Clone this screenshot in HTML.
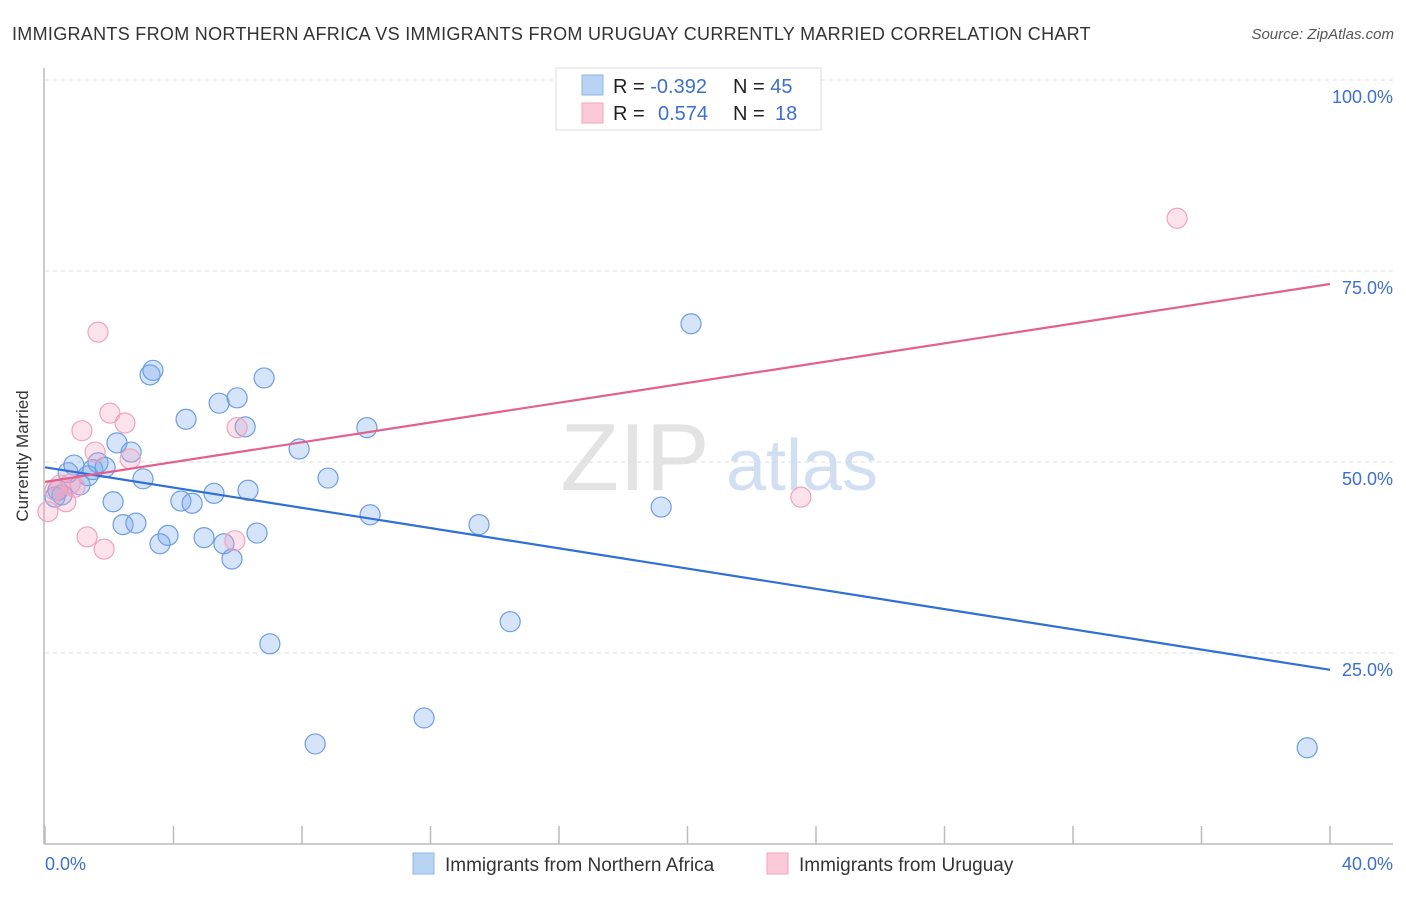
<!DOCTYPE html>
<html><head><meta charset="utf-8"><style>
body{margin:0;background:#fff;font-family:"Liberation Sans",sans-serif}
svg text{font-family:"Liberation Sans",sans-serif}
</style></head><body>
<svg id="chart" width="1406" height="892" xmlns="http://www.w3.org/2000/svg">
<text x="12" y="40" font-size="18" fill="#333" letter-spacing="0.3">IMMIGRANTS FROM NORTHERN AFRICA VS IMMIGRANTS FROM URUGUAY CURRENTLY MARRIED CORRELATION CHART</text>
<text x="1394" y="39" font-size="15" fill="#555" font-style="italic" text-anchor="end">Source: ZipAtlas.com</text>
<g id="grid"></g>
<g>
<text x="635" y="490" font-size="96" fill="#ddd" font-family="Liberation Serif,serif" text-anchor="middle" opacity="0.8">ZIP</text>
<text x="802" y="490" font-size="72" fill="#c8d8f0" text-anchor="middle" opacity="0.8">atlas</text>
</g>
<line x1="44" y1="68" x2="44" y2="844" stroke="#bbb" stroke-width="1.5"/>
<line x1="44" y1="844" x2="1393" y2="844" stroke="#bbb" stroke-width="1.5"/>
<g id="ticks"></g>
<g id="pts"></g>
<g id="lines"></g>
<text x="28" y="456" font-size="17" fill="#333" text-anchor="middle" transform="rotate(-90 28 456)">Currently Married</text>
<text x="45" y="870" font-size="18" fill="#3b6fd0">0.0%</text>
<text x="1393" y="870" font-size="18" fill="#3b6fd0" text-anchor="end">40.0%</text>
<g>
<rect x="556" y="68" width="265" height="62" fill="#fff" stroke="#ddd"/>
<rect x="582" y="75" width="21" height="20" fill="#b9d3f5" stroke="#8fb3e8"/>
<rect x="582" y="103" width="21" height="20" fill="#fbc9d8" stroke="#f3a5bd"/>
<text x="613" y="93" font-size="20" fill="#222">R = <tspan fill="#3b6fd0">-0.392</tspan><tspan x="733">N = </tspan><tspan fill="#3b6fd0">45</tspan></text>
<text x="613" y="120" font-size="20" fill="#222">R = <tspan x="658" fill="#3b6fd0">0.574</tspan><tspan x="733">N = </tspan><tspan x="775" fill="#3b6fd0">18</tspan></text>
</g>
<g>
<rect x="413" y="853" width="21" height="21" fill="#b9d3f5" stroke="#8fb3e8"/>
<text x="445" y="871" font-size="19" fill="#333">Immigrants from Northern Africa</text>
<rect x="767" y="853" width="21" height="21" fill="#fbc9d8" stroke="#f3a5bd"/>
<text x="799" y="871" font-size="19" fill="#333">Immigrants from Uruguay</text>
</g>
</svg>
<script>
const yTicks=[25,50,75,100];
const yTickLabels=["25.0%","50.0%","75.0%","100.0%"];
const xTicks=[0,4,8,12,16,20,24,28,32,36,40];
const blueX=[0.31,0.40,0.53,0.72,0.90,1.09,1.34,1.49,1.65,1.87,2.12,2.24,2.43,2.68,2.83,3.05,3.27,3.36,3.58,3.83,4.23,4.39,4.58,4.95,5.26,5.42,5.57,5.82,5.98,6.23,6.32,6.60,6.82,7.00,7.91,8.41,8.81,10.02,10.12,11.80,13.51,14.48,19.18,20.11,39.29];
const blueY=[45.4,46.3,45.7,48.6,49.6,47.0,48.2,49.0,49.9,49.3,44.8,52.5,41.8,51.3,42.0,47.8,61.4,62.0,39.3,40.4,44.9,55.6,44.6,40.1,45.9,57.7,39.3,37.3,58.4,54.6,46.3,40.7,61.0,26.2,51.7,13.1,47.9,54.5,43.1,16.5,41.8,29.1,44.1,68.1,12.6];
const pinkX=[0.09,0.31,0.47,0.65,0.78,0.93,1.15,1.31,1.56,1.65,1.84,2.02,2.49,2.65,5.91,5.98,23.53,35.24];
const pinkY=[43.5,46.3,47.0,44.8,47.1,46.7,54.1,40.2,51.3,67.0,38.6,56.4,55.1,50.4,39.7,54.5,45.4,81.9];
const blueTrend=[49.3,22.8];
const pinkTrend=[47.4,73.3];
const NS='http://www.w3.org/2000/svg';
const sx=v=>45+v/40*1285;
const sy=v=>844-v/100*764;
function mk(t,a,p){const e=document.createElementNS(NS,t);for(const k in a)e.setAttribute(k,a[k]);p.appendChild(e);return e;}
const grid=document.getElementById('grid');
yTicks.forEach((v,i)=>{
 const l=mk('line',{x1:45,x2:1393,y1:sy(v),y2:sy(v),stroke:'#ddd','stroke-dasharray':'4,4'},grid);
 
 
 const t=mk('text',{x:1393,y:sy(v)+23,'font-size':18,fill:'#3b6fd0','text-anchor':'end'},grid);
 t.textContent=yTickLabels[i];
 
 
});
const tk=document.getElementById('ticks');
xTicks.forEach(v=>{
 const l=mk('line',{x1:sx(v),x2:sx(v),y1:826,y2:844,stroke:'#bbb','stroke-width':1.5},tk);
 
 
});
const pts=document.getElementById('pts');
blueX.forEach((x,i)=>{
 const c=mk('circle',{cx:sx(x),cy:sy(blueY[i]),r:10,fill:'rgba(120,165,235,0.3)',stroke:'#6d9de3','stroke-width':1.2},pts);
 
 
});
pinkX.forEach((x,i)=>{
 const c=mk('circle',{cx:sx(x),cy:sy(pinkY[i]),r:10,fill:'rgba(245,160,190,0.3)',stroke:'#f0a3bc','stroke-width':1.2},pts);
 
 
});
const ln=document.getElementById('lines');
const b=mk('line',{x1:sx(0),y1:sy(blueTrend[0]),x2:sx(40),y2:sy(blueTrend[1]),stroke:'#2f6fd6','stroke-width':2.2},ln);


const p=mk('line',{x1:sx(0),y1:sy(pinkTrend[0]),x2:sx(40),y2:sy(pinkTrend[1]),stroke:'#e4608c','stroke-width':2.2},ln);


</script>
</body></html>
